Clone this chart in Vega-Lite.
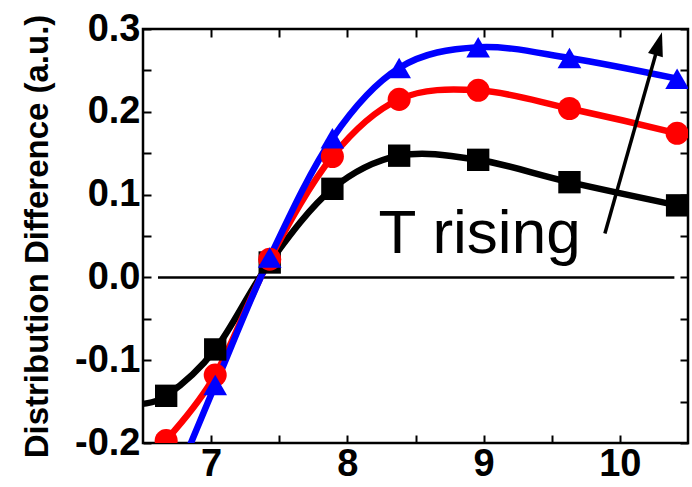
{
  "$schema": "https://vega.github.io/schema/vega-lite/v6.json",
  "width": 545,
  "height": 414,
  "autosize": {"type": "none"},
  "padding": {"left": 143, "top": 29, "right": 4, "bottom": 44},
  "background": "white",
  "config": {
    "view": {"stroke": "black", "strokeWidth": 2.5},
    "axis": {
      "domain": false,
      "grid": false,
      "ticks": true,
      "tickSize": -8,
      "tickColor": "black",
      "tickWidth": 2,
      "labelFont": "Liberation Sans",
      "labelFontSize": 38,
      "labelFontWeight": "bold",
      "labelColor": "black",
      "labelOverlap": false,
      "labelFlush": false,
      "titleFont": "Liberation Sans",
      "titleFontSize": 33,
      "titleFontWeight": "bold",
      "titleColor": "black"
    }
  },
  "datasets": {
    "curves": [
      {"series": "A", "x": 6.45, "y": -0.153},
      {"series": "A", "x": 6.67, "y": -0.143},
      {"series": "A", "x": 7.03, "y": -0.087},
      {"series": "A", "x": 7.43, "y": 0.018},
      {"series": "A", "x": 7.89, "y": 0.107},
      {"series": "A", "x": 8.38, "y": 0.147},
      {"series": "A", "x": 8.96, "y": 0.142},
      {"series": "A", "x": 9.63, "y": 0.115},
      {"series": "A", "x": 10.42, "y": 0.087},
      {"series": "B", "x": 6.45, "y": -0.235},
      {"series": "B", "x": 6.67, "y": -0.197},
      {"series": "B", "x": 7.03, "y": -0.118},
      {"series": "B", "x": 7.43, "y": 0.022},
      {"series": "B", "x": 7.89, "y": 0.146},
      {"series": "B", "x": 8.38, "y": 0.215},
      {"series": "B", "x": 8.96, "y": 0.226},
      {"series": "B", "x": 9.63, "y": 0.204},
      {"series": "B", "x": 10.42, "y": 0.174},
      {"series": "C", "x": 6.45, "y": -0.34},
      {"series": "C", "x": 6.67, "y": -0.27},
      {"series": "C", "x": 7.03, "y": -0.13},
      {"series": "C", "x": 7.43, "y": 0.024},
      {"series": "C", "x": 7.89, "y": 0.168},
      {"series": "C", "x": 8.38, "y": 0.253},
      {"series": "C", "x": 8.96, "y": 0.278},
      {"series": "C", "x": 9.63, "y": 0.265},
      {"series": "C", "x": 10.42, "y": 0.240}
    ],
    "zero": [{"x": 6.61, "x2": 10.4, "y": 0}],
    "arrow": [{"x": 9.89, "y": 0.053, "x2": 10.285, "y2": 0.2822}],
    "head": [{"x": 10.285, "y": 0.2822}],
    "label": [{"x": 8.97, "y": 0.029, "text": "T rising"}]
  },
  "layer": [
    {
      "data": {"name": "zero"},
      "mark": {"type": "rule", "color": "black", "strokeWidth": 2.5},
      "encoding": {
        "x": {
          "field": "x", "type": "quantitative",
          "scale": {"domain": [6.5, 10.5], "nice": false, "zero": false},
          "axis": {
            "orient": "bottom",
            "title": null,
            "values": [7, 7.5, 8, 8.5, 9, 9.5, 10],
            "labelExpr": "datum.value % 1 == 0 ? format(datum.value, 'd') : ''",
            "labelPadding": 10
          }
        },
        "x2": {"field": "x2"},
        "y": {
          "field": "y", "type": "quantitative",
          "scale": {"domain": [-0.2, 0.3], "nice": false, "zero": false},
          "axis": {
            "orient": "left",
            "title": "Distribution Difference (a.u.)",
            "titlePadding": 20,
            "values": [-0.2, -0.15, -0.1, -0.05, 0, 0.05, 0.1, 0.15, 0.2, 0.25, 0.3],
            "labelExpr": "abs(datum.value * 10 - round(datum.value * 10)) < 0.001 ? replace(format(datum.value, '.1f'), '\u2212', '-') : ''",
            "labelPadding": 11
          }
        }
      }
    },
    {
      "data": {"name": "curves"},
      "mark": {"type": "line", "interpolate": "cardinal", "strokeWidth": 6.5, "clip": true},
      "encoding": {
        "x": {
          "field": "x", "type": "quantitative",
          "axis": {
            "orient": "top",
            "title": null,
            "labels": false,
            "values": [7, 7.5, 8, 8.5, 9, 9.5, 10]
          }
        },
        "y": {
          "field": "y", "type": "quantitative",
          "axis": {
            "orient": "right",
            "title": null,
            "labels": false,
            "values": [-0.2, -0.15, -0.1, -0.05, 0, 0.05, 0.1, 0.15, 0.2, 0.25, 0.3]
          }
        },
        "color": {
          "field": "series", "type": "nominal",
          "scale": {"domain": ["A", "B", "C"], "range": ["#000000", "#ff0000", "#0000ff"]},
          "legend": null
        }
      }
    },
    {
      "data": {"name": "curves"},
      "transform": [{"filter": "datum.x >= 6.6"}],
      "mark": {"type": "point", "filled": true, "opacity": 1, "clip": true},
      "encoding": {
        "x": {"field": "x", "type": "quantitative", "axis": null},
        "y": {"field": "y", "type": "quantitative", "axis": null},
        "color": {"field": "series", "type": "nominal", "legend": null},
        "shape": {
          "field": "series", "type": "nominal",
          "scale": {"domain": ["A", "B", "C"], "range": ["square", "circle", "triangle-up"]},
          "legend": null
        },
        "size": {
          "field": "series", "type": "nominal",
          "scale": {"domain": ["A", "B", "C"], "range": [500, 560, 720]},
          "legend": null
        }
      }
    },
    {
      "data": {"name": "arrow"},
      "mark": {"type": "rule", "color": "black", "strokeWidth": 3.5},
      "encoding": {
        "x": {"field": "x", "type": "quantitative", "axis": null},
        "y": {"field": "y", "type": "quantitative", "axis": null},
        "x2": {"field": "x2"},
        "y2": {"field": "y2"}
      }
    },
    {
      "data": {"name": "head"},
      "mark": {"type": "point", "shape": "M0,-1L0.65,1L-0.65,1Z", "filled": true, "color": "black", "opacity": 1, "size": 560, "angle": 16},
      "encoding": {
        "x": {"field": "x", "type": "quantitative", "axis": null},
        "y": {"field": "y", "type": "quantitative", "axis": null}
      }
    },
    {
      "data": {"name": "label"},
      "mark": {"type": "text", "font": "Liberation Sans", "fontSize": 62, "align": "center", "baseline": "alphabetic", "color": "black"},
      "encoding": {
        "x": {"field": "x", "type": "quantitative", "axis": null},
        "y": {"field": "y", "type": "quantitative", "axis": null},
        "text": {"field": "text"}
      }
    }
  ],
  "resolve": {"axis": {"x": "independent", "y": "independent"}}
}
